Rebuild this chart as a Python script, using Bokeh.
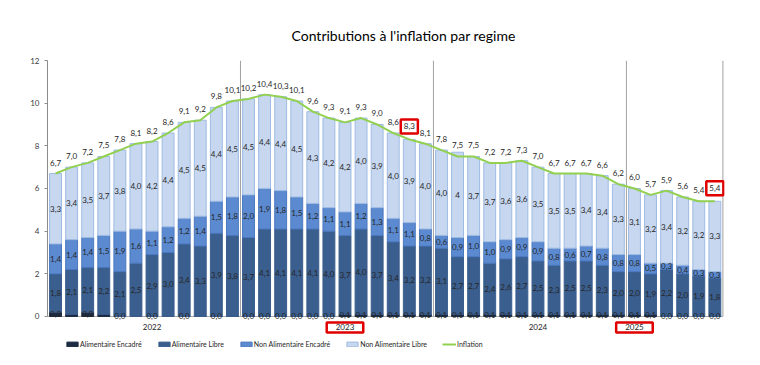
import numpy as np
from bokeh.plotting import figure
from bokeh.models import ColumnDataSource, Range1d, FixedTicker, Legend, LegendItem
from bokeh.core.properties import value
from bokeh.embed import file_html
from bokeh.resources import INLINE

# ---- data ----
years = [2022] * 12 + [2023] * 12 + [2024] * 12 + [2025] * 6

alim_encadre = [0.2, 0.1, 0.2, 0.1, 0.0, 0.0, 0.0, 0.0, 0.0, 0.0, 0.0, 0.0,
                0.0, 0.0, 0.0, 0.0, 0.0, 0.0, 0.1, 0.1, 0.1, 0.1, 0.1, 0.1,
                0.1, 0.1, 0.1, 0.1, 0.1, 0.1, 0.1, 0.1, 0.1, 0.1, 0.1, 0.1,
                0.1, 0.1, 0.0, 0.0, 0.0, 0.0]
alim_libre = [1.8, 2.1, 2.1, 2.2, 2.1, 2.5, 2.9, 3.0, 3.4, 3.3, 3.9, 3.8,
              3.7, 4.1, 4.1, 4.1, 4.1, 4.0, 3.7, 4.0, 3.7, 3.4, 3.2, 3.2,
              3.1, 2.7, 2.7, 2.4, 2.6, 2.7, 2.5, 2.3, 2.5, 2.5, 2.3, 2.0,
              2.0, 1.9, 2.2, 2.0, 1.9, 1.8]
non_alim_encadre = [1.4, 1.4, 1.4, 1.5, 1.9, 1.6, 1.1, 1.2, 1.2, 1.4, 1.5, 1.8,
                    2.0, 1.9, 1.8, 1.5, 1.2, 1.1, 1.1, 1.2, 1.3, 1.1, 1.1, 0.8,
                    0.6, 0.9, 1.0, 1.0, 0.9, 0.9, 0.9, 0.8, 0.6, 0.7, 0.8, 0.8,
                    0.8, 0.5, 0.3, 0.4, 0.3, 0.3]
non_alim_libre = [3.3, 3.4, 3.5, 3.7, 3.8, 4.0, 4.2, 4.4, 4.5, 4.5, 4.4, 4.5,
                  4.5, 4.4, 4.4, 4.5, 4.3, 4.2, 4.2, 4.0, 3.9, 4.0, 3.9, 4.0,
                  4.0, 4, 3.7, 3.7, 3.6, 3.6, 3.5, 3.5, 3.5, 3.4, 3.4, 3.3,
                  3.1, 3.2, 3.4, 3.2, 3.2, 3.3]
inflation = [6.7, 7.0, 7.2, 7.5, 7.8, 8.1, 8.2, 8.6, 9.1, 9.2, 9.8, 10.1,
             10.2, 10.4, 10.3, 10.1, 9.6, 9.3, 9.1, 9.3, 9.0, 8.6, 8.3, 8.1,
             7.8, 7.5, 7.5, 7.2, 7.2, 7.3, 7.0, 6.7, 6.7, 6.7, 6.6, 6.2,
             6.0, 5.7, 5.9, 5.6, 5.4, 5.4]
highlight_points = [22, 41]          # inflation labels boxed in red
highlight_years = [2023, 2025]       # year labels boxed in red
hidden_ae_labels = [1, 3, 5, 7, 9, 11]

series_names = ["Alimentaire Encadré", "Alimentaire Libre",
                "Non Alimentaire Encadré", "Non Alimentaire Libre"]
y_ticks = [0, 2, 4, 6, 8, 10, 12]


def fmt(v):
    if isinstance(v, int):
        return str(v)
    return f"{v:.1f}".replace(".", ",")


n = len(inflation)
xs = list(range(n))
FONT = value("Lato")
LABEL_COLOR = "#262626"

src = ColumnDataSource(dict(x=xs, ae=alim_encadre, al=alim_libre,
                            nae=non_alim_encadre, nal=non_alim_libre))

p = figure(width=760, height=365, output_backend="svg", toolbar_location=None,
           x_range=Range1d(-0.5, 41.6), y_range=Range1d(-1.69, 12),
           min_border_left=47, min_border_right=36, min_border_top=60,
           min_border_bottom=13)

p.title.text = "Contributions à l'inflation par regime"
p.title.text_font = "Lato"
p.title.text_font_size = "14px"
p.title.text_font_style = "normal"
p.title.text_color = "#000000"
p.title.align = "left"
p.title.offset = 244
p.title.standoff = 33

p.outline_line_color = None
p.grid.visible = False
p.xaxis.visible = False

# year separators and x axis line
bounds = [i - 0.5 for i in range(1, n) if years[i] != years[i - 1]] + [n - 0.5]
p.segment(x0=bounds, y0=[0] * len(bounds), x1=bounds, y1=[12] * len(bounds),
          line_color="#a0a0a0", line_width=1)
p.segment(x0=[-0.5], y0=[0], x1=[n - 0.5], y1=[0], line_color="#a6a6a6", line_width=1)

fills = ["#1c2b42", "#3a5e8e", "#5b8ad0", "#c6d7ef"]
lines = ["#1c2b42", "#3a5e8e", "#4a78c0", "#9ebbe3"]
bars = p.vbar_stack(["ae", "al", "nae", "nal"], x="x", width=0.74, source=src,
                    fill_color=fills, line_color=lines, line_width=1)

line_r = p.line(xs, inflation, line_color="#92d050", line_width=2)

# segment labels
stack = [alim_encadre, alim_libre, non_alim_encadre, non_alim_libre]
bottom = np.zeros(n)
for k, vals in enumerate(stack):
    v = np.array(vals, dtype=float)
    mid = bottom + v / 2
    lx, ly, lt = [], [], []
    for i in range(n):
        if k == 0 and i in hidden_ae_labels:
            continue
        lx.append(i)
        ly.append(float(mid[i]))
        lt.append(fmt(vals[i]))
    p.text(x=lx, y=ly, text=lt, text_align="center", text_baseline="middle",
           text_font=FONT, text_font_size="8px", text_color=LABEL_COLOR)
    bottom = bottom + v

# inflation labels
ix = [i for i in range(n) if i not in highlight_points]
p.text(x=ix, y=[inflation[i] for i in ix], text=[fmt(inflation[i]) for i in ix],
       y_offset=-11, text_align="center", text_baseline="middle",
       text_font=FONT, text_font_size="8px", text_color=LABEL_COLOR)
p.text(x=highlight_points, y=[inflation[i] for i in highlight_points],
       text=[fmt(inflation[i]) for i in highlight_points],
       y_offset=-13, text_align="center", text_baseline="middle",
       text_font=FONT, text_font_size="8px", text_color=LABEL_COLOR,
       padding=(3, 4), border_line_color="#e00000", border_line_width=2.5)

# year labels
uniq_years = sorted(set(years))
yl_x, yl_t = [], []
for yr in uniq_years:
    first = years.index(yr)
    cnt = years.count(yr)
    yl_x.append(first + 6 if cnt > 6 else first)
    yl_t.append(str(yr))
nx = [yl_x[j] for j in range(len(yl_t)) if int(yl_t[j]) not in highlight_years]
nt = [t for t in yl_t if int(t) not in highlight_years]
hx = [yl_x[j] for j in range(len(yl_t)) if int(yl_t[j]) in highlight_years]
ht = [t for t in yl_t if int(t) in highlight_years]
p.text(x=nx, y=[0] * len(nx), text=nt, y_offset=11, text_align="center",
       text_baseline="middle", text_font=FONT, text_font_size="8px",
       text_color=LABEL_COLOR)
p.text(x=hx, y=[0] * len(hx), text=ht, y_offset=11, text_align="center",
       text_baseline="middle", text_font=FONT, text_font_size="8px",
       text_color=LABEL_COLOR, padding=(9, 2),
       border_line_color="#e00000", border_line_width=2.5)

# y axis
p.yaxis.ticker = FixedTicker(ticks=y_ticks)
p.yaxis.bounds = (0, 12)
p.yaxis.major_label_text_font = "Lato"
p.yaxis.major_label_text_font_size = "8px"
p.yaxis.major_label_text_color = "#404040"
p.yaxis.axis_line_color = "#8c8c8c"
p.yaxis.major_tick_line_color = "#8c8c8c"
p.yaxis.major_tick_out = 3
p.yaxis.major_tick_in = 0
p.yaxis.minor_tick_line_color = None
p.yaxis.major_label_standoff = 5

items = [LegendItem(label=series_names[k], renderers=[bars[k]]) for k in range(4)]
items.append(LegendItem(label="Inflation", renderers=[line_r]))
legend = Legend(items=items, orientation="horizontal", location=(18, 4),
                spacing=15, label_standoff=1, glyph_width=14, glyph_height=6,
                label_height=8, label_text_font="Lato", label_text_font_size="7px",
                label_text_color="#262626", padding=0, margin=0,
                border_line_color=None, background_fill_alpha=0)
p.add_layout(legend, "center")

open("out.html", "w").write(file_html(p, INLINE))
